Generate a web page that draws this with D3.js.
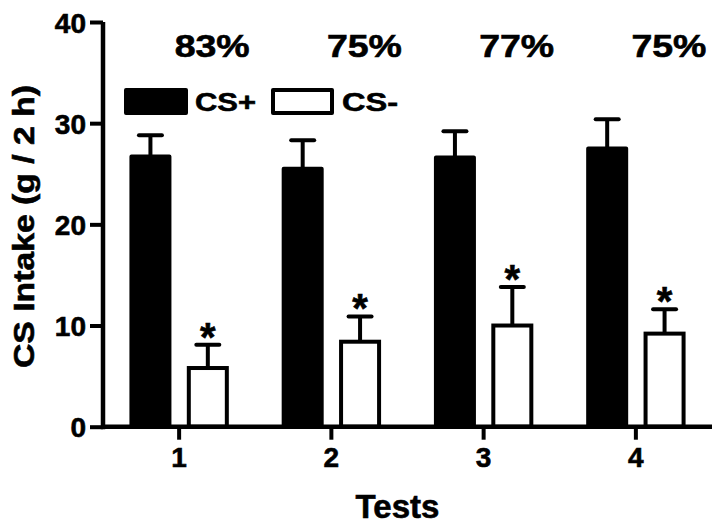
<!DOCTYPE html>
<html>
<head>
<meta charset="utf-8">
<script src="https://cdn.jsdelivr.net/npm/d3@7/dist/d3.min.js"></script>
<style>
  html, body { margin: 0; padding: 0; background: #fff; }
  svg { display: block; }
  text { font-family: "Liberation Sans", Arial, Helvetica, sans-serif; font-weight: bold; fill: #000; stroke: #000; stroke-width: 0.6px; }
</style>
</head>
<body>
<svg id="chart" width="724" height="528"></svg>
<script>
// ---- data ----
const categories = ["1", "2", "3", "4"];
const seriesNames = ["CS+", "CS-"];
const csPlusMean = [26.7, 25.5, 26.6, 27.5];
const csPlusSem  = [2.1, 2.8, 2.6, 2.9];
const csMinusMean = [5.8, 8.4, 10.0, 9.2];
const csMinusSem  = [2.3, 2.5, 3.8, 2.4];
const significant = [true, true, true, true];
const percentLabels = ["83%", "75%", "77%", "75%"];
const yTicks = [0, 10, 20, 30, 40];
const yTitle = "CS Intake (g / 2 h)";
const xTitle = "Tests";

// ---- layout ----
const svg = d3.select("#chart");
const plot = { left: 103, right: 712, top: 22, bottom: 426.7 };

const x = d3.scaleBand().domain(categories).range([plot.left, plot.right]).padding(0);
const xSub = d3.scaleBand().domain(seriesNames).range([-49.7, 49.7]).paddingInner(0.268).paddingOuter(0);
const y = d3.scaleLinear().domain([0, 40]).range([plot.bottom, plot.top]);

const rows = categories.map((c, i) => ([
  { cat: c, s: "CS+", mean: csPlusMean[i], sem: csPlusSem[i], sig: false },
  { cat: c, s: "CS-", mean: csMinusMean[i], sem: csMinusSem[i], sig: significant[i] }
])).flat();

const sw = 4;
const bw = xSub.bandwidth();
const cx = d => x(d.cat) + x.bandwidth() / 2 + xSub(d.s) + bw / 2;

// error bars
const eb = svg.append("g").attr("stroke", "#000").attr("stroke-width", 4);
eb.selectAll("line.v").data(rows).join("line")
  .attr("x1", cx).attr("x2", cx)
  .attr("y1", d => y(d.mean)).attr("y2", d => y(d.mean + d.sem));
eb.selectAll("line.h").data(rows).join("line")
  .attr("x1", d => cx(d) - 11.5).attr("x2", d => cx(d) + 11.5)
  .attr("y1", d => y(d.mean + d.sem)).attr("y2", d => y(d.mean + d.sem))
  .attr("stroke-linecap", "round");

// bars
svg.append("g").selectAll("rect").data(rows).join("rect")
  .attr("x", d => cx(d) - bw / 2 + sw / 2)
  .attr("width", bw - sw)
  .attr("y", d => y(d.mean))
  .attr("height", d => y(0) - y(d.mean))
  .attr("fill", d => d.s === "CS+" ? "#000" : "#fff")
  .attr("stroke", "#000")
  .attr("stroke-width", sw)
  .attr("stroke-linejoin", d => d.s === "CS+" ? "round" : "miter");

// significance stars
svg.append("g").selectAll("text").data(rows.filter(d => d.sig)).join("text")
  .attr("x", cx)
  .attr("y", d => y(d.mean + d.sem) + 6)
  .attr("text-anchor", "middle")
  .attr("font-size", 40)
  .text("*");

// y axis
const yAxis = d3.axisLeft(y).tickValues(yTicks).tickSize(13).tickSizeOuter(0).tickPadding(4);
const gy = svg.append("g").attr("transform", `translate(${plot.left},0)`).call(yAxis);
gy.select(".domain").attr("stroke", "#000").attr("stroke-width", 4.5)
  .attr("d", `M0,${plot.top}V${plot.bottom + 2.5}`);
gy.selectAll(".tick line").attr("stroke", "#000").attr("stroke-width", 4);
gy.selectAll(".tick text").attr("font-size", 28).attr("font-family", "Liberation Sans, Arial, sans-serif")
  .attr("font-weight", "bold").attr("fill", "#000").attr("dy", "0.36em");

// x axis
const xAxis = d3.axisBottom(x).tickSize(13).tickSizeOuter(0).tickPadding(7);
const gx = svg.append("g").attr("transform", `translate(0,${plot.bottom})`).call(xAxis);
gx.select(".domain").attr("stroke", "#000").attr("stroke-width", 4.5)
  .attr("d", `M${plot.left - 2},0H${plot.right}`);
gx.selectAll(".tick line").attr("stroke", "#000").attr("stroke-width", 4);
gx.selectAll(".tick text").attr("font-size", 28).attr("font-family", "Liberation Sans, Arial, sans-serif")
  .attr("font-weight", "bold").attr("fill", "#000").attr("dy", "0.72em");

// percentage labels
svg.append("g").selectAll("text").data(percentLabels).join("text")
  .attr("x", (d, i) => x(categories[i]) + x.bandwidth() / 2 + 33)
  .attr("y", 57)
  .attr("text-anchor", "middle")
  .attr("font-size", 32)
  .attr("textLength", 75)
  .attr("lengthAdjust", "spacingAndGlyphs")
  .text(d => d);

// legend
const legend = svg.append("g");
legend.append("rect").attr("x", 126).attr("y", 90).attr("width", 60).attr("height", 23)
  .attr("fill", "#000").attr("stroke", "#000").attr("stroke-width", 4).attr("stroke-linejoin", "round");
legend.append("text").attr("x", 195).attr("y", 110.5).attr("font-size", 26)
  .attr("textLength", 61).attr("lengthAdjust", "spacingAndGlyphs").text(seriesNames[0]);
legend.append("rect").attr("x", 273).attr("y", 90).attr("width", 59).attr("height", 23)
  .attr("fill", "#fff").attr("stroke", "#000").attr("stroke-width", 4).attr("stroke-linejoin", "round");
legend.append("text").attr("x", 342).attr("y", 110.5).attr("font-size", 26)
  .attr("textLength", 56).attr("lengthAdjust", "spacingAndGlyphs").text(seriesNames[1]);

// axis titles
svg.append("text")
  .attr("transform", `translate(34,226.5) rotate(-90)`)
  .attr("text-anchor", "middle")
  .attr("font-size", 30)
  .attr("textLength", 283)
  .attr("lengthAdjust", "spacingAndGlyphs")
  .text(yTitle);

svg.append("text")
  .attr("x", 397.5).attr("y", 518)
  .attr("text-anchor", "middle")
  .attr("font-size", 33)
  .text(xTitle);
</script>
</body>
</html>
